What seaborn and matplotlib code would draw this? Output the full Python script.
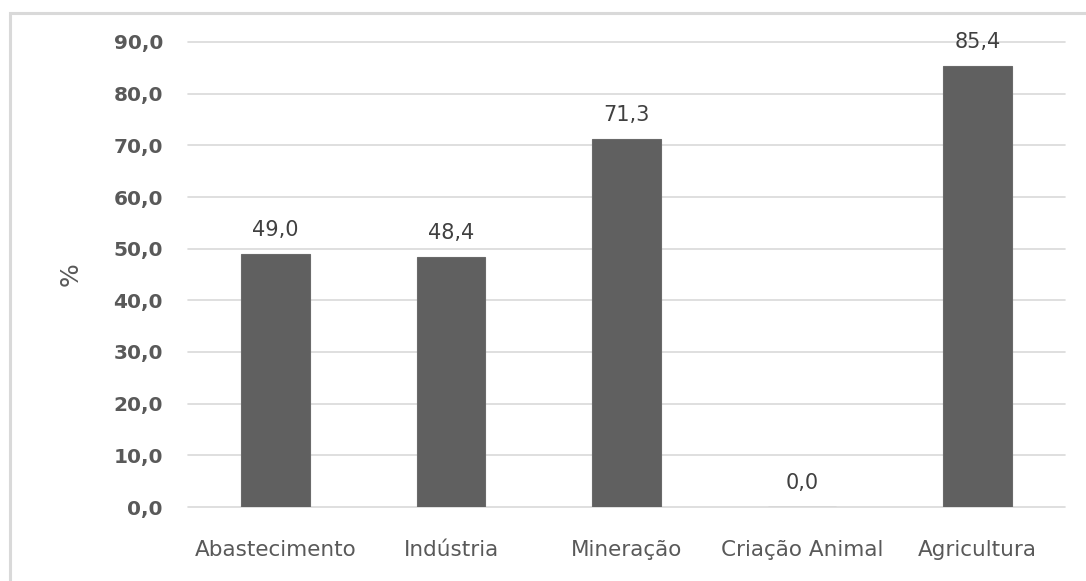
import matplotlib
matplotlib.use("Agg")
import matplotlib.pyplot as plt
import matplotlib.patches as mpatches
import seaborn as sns
import pandas as pd

categories = ["Abastecimento", "Indústria", "Mineração", "Criação Animal", "Agricultura"]
values = [49.0, 48.4, 71.3, 0.0, 85.4]
yticks = [0, 10, 20, 30, 40, 50, 60, 70, 80, 90]

sns.set_theme(style="white")
plt.rcParams['font.family'] = ['DejaVu Sans']

df = pd.DataFrame({"cat": categories, "val": values})

fig = plt.figure(figsize=(10.86, 5.81), dpi=100)
ax = fig.add_axes([188/1086, 1-507/581, (1065-188)/1086, (507-42)/581])

sns.barplot(data=df, x="cat", y="val", color="#606060", saturation=1, width=0.39,
            edgecolor="#6a6a6a", linewidth=0.8, ax=ax, zorder=3)

ax.set_ylim(0, 90)
ax.set_xlim(-0.5, len(categories) - 0.5)
ax.set_yticks(yticks)
ax.set_yticklabels([f"{t:.1f}".replace(".", ",") for t in yticks])
ax.yaxis.grid(True, color="#d9d9d9", linewidth=1.2, zorder=0)
for gl in ax.get_ygridlines():
    gl.set_clip_on(False)
ax.set_axisbelow(True)
for s in ax.spines.values():
    s.set_visible(False)
ax.tick_params(axis="y", length=0, pad=18, labelsize=14.5, labelcolor="#595959")
ax.tick_params(axis="x", length=0, pad=24, labelsize=15.5, labelcolor="#595959")
for lbl in ax.get_yticklabels():
    lbl.set_fontweight("semibold")
for lbl in ax.get_xticklabels():
    lbl.set_fontweight("medium")
ax.set_xlabel("")
ax.set_ylabel("%", fontsize=18, color="#595959")
ax.yaxis.set_label_coords(-(188-71)/877, 0.5)
ax.yaxis.label.set_verticalalignment("center")

for i, v in enumerate(values):
    ax.annotate(f"{v:.1f}".replace(".", ","), (i, v), xytext=(0, 13),
                textcoords="offset points", ha="center", va="baseline",
                fontsize=15, color="#404040")

# outer border (partially cropped in reference)
rect = mpatches.Rectangle((10/1086, -0.2), 1.5, 1 - 13/581 + 0.2, transform=fig.transFigure,
                          fill=False, edgecolor="#d9d9d9", linewidth=2.2, clip_on=False)
fig.patches.append(rect)

fig.savefig("out.png", dpi=100)
